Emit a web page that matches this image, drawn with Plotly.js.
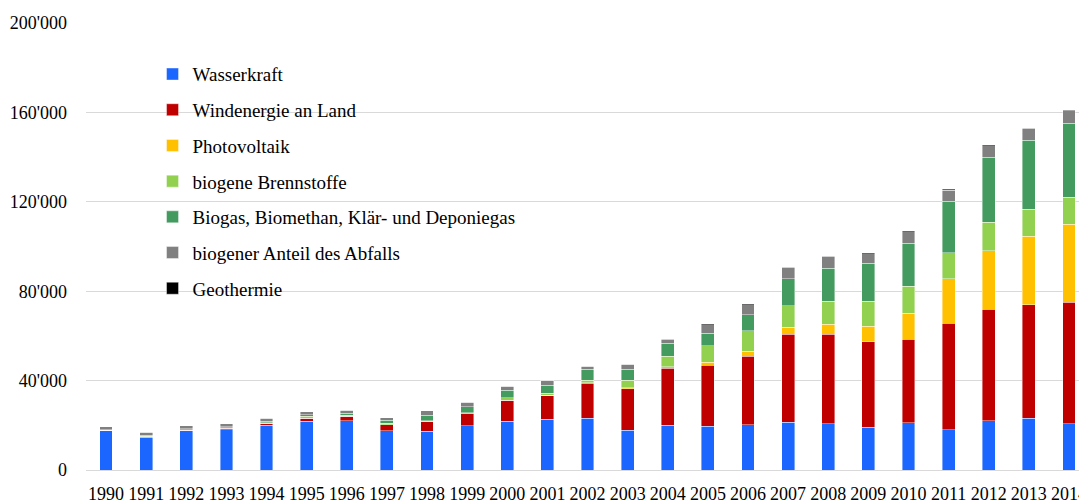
<!DOCTYPE html>
<html>
<head>
<meta charset="utf-8">
<script src="https://cdn.plot.ly/plotly-3.0.1.min.js"></script>
<style>html,body{margin:0;padding:0;background:#fff;overflow:hidden}#chart{width:1079px;height:504px}</style>
</head>
<body>
<div id="chart"></div>
<script>
const years = ['1990','1991','1992','1993','1994','1995','1996','1997','1998','1999','2000','2001','2002','2003','2004','2005','2006','2007','2008','2009','2010','2011','2012','2013','2014'];
const wasserkraft = [17600,14760,17580,18030,19930,21740,22000,17500,17270,19690,21740,22820,23090,17720,20100,19640,20270,21300,20710,19240,21160,17900,22070,23090,20710];
const windLand = [100,100,275,600,900,1500,2032,2800,4470,5400,9500,10500,15800,18700,25500,27200,30560,39510,40110,38170,37280,47720,49810,50860,54290];
const photovoltaik = [1,1,3,3,7,7,12,18,35,30,60,76,162,313,600,1300,2240,3130,4470,6860,11780,19990,26250,30570,34900];
const biogeneBrennstoffe = [0,200,200,250,300,700,500,700,300,600,1040,900,1190,3430,4770,7460,9240,9540,10290,11330,12080,11630,12680,12230,12230];
const biogas = [400,600,450,450,750,750,900,1200,2380,2600,3280,3580,4770,4920,5670,5670,7160,12080,14760,16850,19240,22960,29230,30720,32960];
const abfall = [1200,1200,1300,1400,1200,1400,1200,1100,1970,1940,1940,2240,1490,2240,1790,3730,4470,5070,5220,4320,5070,4920,5070,5520,5670];
const geothermie = [0,0,0,0,0,0,0,0,0,0,0,0,0,0,400,400,400,400,400,400,400,400,400,100,100];

const seriesNames = ['Wasserkraft','Windenergie an Land','Photovoltaik','biogene Brennstoffe','Biogas, Biomethan, Klär- und Deponiegas','biogener Anteil des Abfalls','Geothermie'];
const seriesValues = [wasserkraft, windLand, photovoltaik, biogeneBrennstoffe, biogas, abfall, geothermie];
const seriesColors = ['#1A66FF','#C00000','#FFC000','#92D050','#439B5F','#808080','#000000'];

const traces = seriesNames.map((n,i)=>({
  type:'bar', name:n, x:years, y:seriesValues[i],
  legendgroup:'g'+i,
  marker:{color:seriesColors[i], line:{color:'rgba(255,255,255,0.55)', width:0.75}},
  hoverinfo:'x+y+name'
}));

const font = "'Liberation Serif', 'Times New Roman', serif";
const layout = {
  width:1079, height:504,
  margin:{l:86, r:0, t:23, b:34, pad:0},
  paper_bgcolor:'#fff', plot_bgcolor:'#fff',
  barmode:'stack', bargap:0.68,
  separators:".'",
  font:{family:font, size:18, color:'#000'},
  showlegend:true,
  legend:{x:0.067, y:0.928, xanchor:'left', yanchor:'top', traceorder:'grouped', tracegroupgap:8,
          font:{family:font, size:19, color:'#000'}, bgcolor:'rgba(0,0,0,0)'},
  xaxis:{type:'category', range:[-0.5,24.25], showgrid:false, showline:false, zeroline:false,
         ticks:'', tickfont:{family:font, size:18, color:'#000'}, ticklabelstandoff:11, fixedrange:true},
  yaxis:{range:[0,200000], tickvals:[0,40000,80000,120000,160000,200000], tickformat:',d',
         showgrid:true, gridcolor:'#D9D9D9', gridwidth:1, zeroline:true, zerolinecolor:'#D9D9D9', zerolinewidth:1,
         showline:false, ticks:'', ticklabelstandoff:18, tickfont:{family:font, size:18, color:'#000'}, fixedrange:true}
};
Plotly.newPlot('chart', traces, layout, {displayModeBar:false, staticPlot:true});
</script>
</body>
</html>
